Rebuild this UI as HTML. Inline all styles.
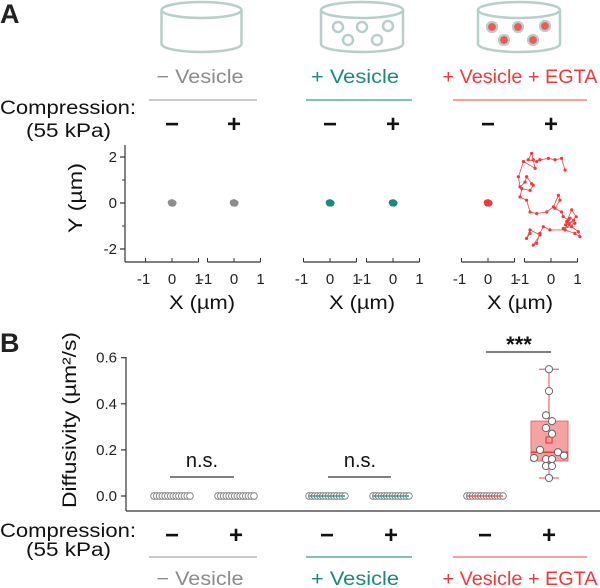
<!DOCTYPE html>
<html><head><meta charset="utf-8">
<style>
html,body{margin:0;padding:0;background:#fff;}
svg{display:block;font-family:"Liberation Sans",Arial,sans-serif;}
</style></head>
<body>
<svg id="fig" width="600" height="588" viewBox="0 0 600 588">
<g id="static">
<text x="0" y="23" font-size="27" font-weight="bold" fill="#222">A</text>
<text x="0" y="352" font-size="27" font-weight="bold" fill="#222">B</text>

<g fill="none" stroke="#b6cfca" stroke-width="2.5">
<ellipse cx="201.5" cy="10" rx="40" ry="8"/>
<path d="M161.5 10 V44 A40 8 0 0 0 241.5 44 V10"/>
</g>
<g fill="none" stroke="#b6cfca" stroke-width="2.5">
<ellipse cx="362" cy="10" rx="41" ry="8"/>
<path d="M321 10 V44 A41 8 0 0 0 403 44 V10"/>
<circle cx="338" cy="27" r="5"/><circle cx="362" cy="27" r="5"/><circle cx="388" cy="26" r="5"/>
<circle cx="348" cy="40" r="5"/><circle cx="377" cy="40" r="5"/>
</g>
<g stroke="#b6cfca" stroke-width="2.5">
<ellipse cx="519" cy="10" rx="41" ry="8" fill="none"/>
<path d="M478 10 V44 A41 8 0 0 0 560 44 V10" fill="none"/>
<g fill="#ef5a55" stroke-width="2.2">
<circle cx="492" cy="27" r="5"/><circle cx="518" cy="27" r="5"/><circle cx="545" cy="26" r="5"/>
<circle cx="504" cy="40" r="5"/><circle cx="533" cy="40" r="5"/></g>
</g>

<text x="200" y="83" font-size="19" fill="#8c8c8c" text-anchor="middle" textLength="87" lengthAdjust="spacingAndGlyphs">− Vesicle</text>
<text x="355" y="83" font-size="19" fill="#1a8a7f" text-anchor="middle" textLength="88" lengthAdjust="spacingAndGlyphs">+ Vesicle</text>
<text x="520" y="83" font-size="19" fill="#f0393a" text-anchor="middle" textLength="155" lengthAdjust="spacingAndGlyphs">+ Vesicle + EGTA</text>
<line x1="149" y1="100" x2="257" y2="100" stroke="#aaa" stroke-width="1.3"/>
<line x1="306" y1="100" x2="412" y2="100" stroke="#3a9a90" stroke-width="1.3"/>
<line x1="453" y1="100" x2="587" y2="100" stroke="#f06a6a" stroke-width="1.3"/>
<text x="0" y="114" font-size="19" fill="#111" textLength="136" lengthAdjust="spacingAndGlyphs">Compression:</text>
<text x="26" y="137" font-size="19" fill="#111" textLength="85" lengthAdjust="spacingAndGlyphs">(55 kPa)</text>

<text x="75" y="198" font-size="19" fill="#111" text-anchor="middle" transform="rotate(-90 75 198)" dy="7" textLength="70" lengthAdjust="spacingAndGlyphs">Y (µm)</text>
<text x="202" y="309" font-size="19" fill="#111" text-anchor="middle" textLength="66" lengthAdjust="spacingAndGlyphs">X (µm)</text>
<text x="362" y="309" font-size="19" fill="#111" text-anchor="middle" textLength="66" lengthAdjust="spacingAndGlyphs">X (µm)</text>
<text x="520" y="309" font-size="19" fill="#111" text-anchor="middle" textLength="66" lengthAdjust="spacingAndGlyphs">X (µm)</text>

<text x="69" y="420" font-size="19" fill="#111" text-anchor="middle" transform="rotate(-90 69 420)" dy="7" textLength="176" lengthAdjust="spacingAndGlyphs">Diffusivity (µm²/s)</text>
<text x="0" y="537" font-size="19" fill="#111" textLength="136" lengthAdjust="spacingAndGlyphs">Compression:</text>
<text x="26" y="556" font-size="19" fill="#111" textLength="85" lengthAdjust="spacingAndGlyphs">(55 kPa)</text>
<line x1="149" y1="557" x2="257" y2="557" stroke="#aaa" stroke-width="1.3"/>
<line x1="306" y1="557" x2="412" y2="557" stroke="#3a9a90" stroke-width="1.3"/>
<line x1="453" y1="557" x2="587" y2="557" stroke="#f06a6a" stroke-width="1.3"/>
<text x="200" y="585" font-size="19" fill="#8c8c8c" text-anchor="middle" textLength="87" lengthAdjust="spacingAndGlyphs">− Vesicle</text>
<text x="355" y="585" font-size="19" fill="#1a8a7f" text-anchor="middle" textLength="88" lengthAdjust="spacingAndGlyphs">+ Vesicle</text>
<text x="520" y="585" font-size="19" fill="#f0393a" text-anchor="middle" textLength="155" lengthAdjust="spacingAndGlyphs">+ Vesicle + EGTA</text>

<text x="202" y="467" font-size="20" fill="#111" text-anchor="middle">n.s.</text>
<line x1="170" y1="477" x2="234" y2="477" stroke="#333" stroke-width="1.3"/>
<text x="360" y="467" font-size="20" fill="#111" text-anchor="middle">n.s.</text>
<line x1="328" y1="477" x2="391" y2="477" stroke="#333" stroke-width="1.3"/>
<text x="519" y="352" font-size="22" font-weight="bold" fill="#111" text-anchor="middle">***</text>
<line x1="486" y1="352" x2="551" y2="352" stroke="#333" stroke-width="1.3"/>
</g>
<g id="dyn"></g>
</svg>
<script>
// ---- data ----
const condSigns = ["−","+","−","+","−","+"];
const condColors = ["#8c8c8c","#8c8c8c","#1a8a7f","#1a8a7f","#f0393a","#f0393a"];
const yTicksA = [2, 0, -2];
const xTicksA = [-1, 0, 1];
const trackSmallX = [-0.05, 0.04, 0.0, 0.06, -0.03];
const trackSmallY = [0.02, -0.03, 0.04, 0.0, -0.02];
const trajX = [0.53,0.40,0.15,-0.10,-0.42,-0.54,-0.86,-0.73,-0.67,-0.60,-1.04,-1.23,-1.17,-0.98,-0.92,-0.73,-0.67,-0.79,-1.10,-1.17,-0.92,-0.79,-0.54,-0.16,0.09,0.28,0.34,0.15,0.40,0.46,0.65,0.72,0.55,0.85,0.68,0.95,0.78,0.59,0.90,0.46,0.78,1.03,1.09,0.90,0.53,-0.04,-0.29,-0.42,-0.54,-0.67,-0.42,-0.79,-0.92,-0.79];
const trajY = [1.43,1.94,1.88,1.94,1.88,1.80,1.88,2.16,1.88,1.51,1.80,1.14,0.70,0.91,1.14,0.84,0.77,0.55,0.62,0.26,0.12,-0.39,-0.46,-0.39,-0.17,0.33,0.12,-0.23,-0.39,-0.59,-0.74,-0.66,-0.95,-0.75,-0.92,-0.60,-0.30,-0.81,-0.88,-1.10,-1.03,-1.25,-1.46,-1.32,-1.17,-1.17,-1.03,-1.32,-1.75,-1.83,-1.39,-1.17,-1.54,-1.32];
const bTicks = [0.0, 0.2, 0.4, 0.6];
const bTickLabels = ["0.0","0.2","0.4","0.6"];
const zeroCounts = [14, 14, 14, 14, 14];
const egtaValues = [0.55,0.455,0.35,0.325,0.295,0.27,0.20,0.19,0.165,0.175,0.16,0.16,0.13,0.13,0.078];
const egtaJitter = [0,0,-3,3,-3,3,-9,9,-15,15,-3,3,-3,3,0];
const egtaBox = {q1:0.152, med:0.19, q3:0.325, lo:0.078, hi:0.55, mean:0.243};

const NS="http://www.w3.org/2000/svg";
const dyn=document.getElementById('dyn');
function mk(tag,attrs,parent){const e=document.createElementNS(NS,tag);for(const k in attrs)e.setAttribute(k,attrs[k]);(parent||dyn).appendChild(e);return e;}

const zeroA=[172,234,330,393,488,551];
const catB=[172,236,327,391,485,549];
const ax=(i,v)=>zeroA[i]+v*26.5;
const ayA=v=>203-v*23;
condSigns.forEach((s,i)=>{
  const t=mk('text',{x:zeroA[i],y:132,'font-size':24,'font-weight':'bold','text-anchor':'middle',fill:'#111'});
  t.textContent=s;
  
  
  const t2=mk('text',{x:catB[i],y:543,'font-size':24,'font-weight':'bold','text-anchor':'middle',fill:'#111'});
  t2.textContent=s;
  
  
});
mk('line',{x1:125,y1:145,x2:125,y2:262,stroke:'#333','stroke-width':1.2});
[1,-1].forEach(v=>{mk('line',{x1:122,y1:ayA(v),x2:125,y2:ayA(v),stroke:'#333','stroke-width':1});});
yTicksA.forEach(v=>{
  mk('line',{x1:120,y1:ayA(v),x2:125,y2:ayA(v),stroke:'#333','stroke-width':1.2});
  const t=mk('text',{x:117,y:ayA(v)+5,'font-size':15,'text-anchor':'end',fill:'#222'});
  t.textContent=String(v);
  
  
});
for(let i=0;i<6;i++){
  const x0 = i===0?125:ax(i,-1);
  const l=mk('line',{x1:x0,y1:262,x2:ax(i,1),y2:262,stroke:'#333','stroke-width':1.2});
  
  
  xTicksA.forEach(v=>{
    mk('line',{x1:ax(i,v),y1:258,x2:ax(i,v),y2:262,stroke:'#333','stroke-width':1});
    const t=mk('text',{x:ax(i,v)+(v===-1?-2:0),y:284,'font-size':15,'text-anchor':'middle',fill:'#222'});
    t.textContent=String(v);
    
    
  });
}
for(let i=0;i<5;i++){
  const pts=trackSmallX.map((x,k)=>ax(i,x)+','+ayA(trackSmallY[k])).join(' ');
  mk('polyline',{points:pts,fill:'none',stroke:condColors[i],'stroke-width':1.5});
  trackSmallX.forEach((x,k)=>{
    const c=mk('circle',{cx:ax(i,x),cy:ayA(trackSmallY[k]),r:3,fill:condColors[i]});
    
    
  });
}
const tp=trajX.map((x,k)=>ax(5,x)+','+ayA(trajY[k])).join(' ');
const pl=mk('polyline',{points:tp,fill:'none',stroke:'#f0393a','stroke-width':0.9,opacity:0.85});


trajX.forEach((x,k)=>{
  const c=mk('circle',{cx:ax(5,x),cy:ayA(trajY[k]),r:1.6,fill:'#f0393a'});
  
  
});

const yB=v=>496-v*230.5;
const ya=mk('line',{x1:126,y1:357,x2:126,y2:511,stroke:'#333','stroke-width':1.2});


const xa=mk('line',{x1:126,y1:511,x2:600,y2:511,stroke:'#333','stroke-width':1.2});


bTicks.forEach((v,k)=>{
  mk('line',{x1:121,y1:yB(v),x2:126,y2:yB(v),stroke:'#333','stroke-width':1.2});
  const t=mk('text',{x:117,y:yB(v)+5,'font-size':15,'text-anchor':'end',fill:'#222'});
  t.textContent=bTickLabels[k];
  
  
});
zeroCounts.forEach((n,i)=>{
  const w=36;
  if(i>=2) mk('line',{x1:catB[i]-w/2-3,y1:yB(0),x2:catB[i]+w/2+3,y2:yB(0),stroke:condColors[i],'stroke-width':1.5});
  for(let k=0;k<n;k++){
    const c=mk('circle',{cx:catB[i]-w/2+k*w/(n-1),cy:yB(0),r:3.3,fill:'#fff',stroke:'#777','stroke-width':0.9});
    
    
  }
  if(i>=2) mk('line',{x1:catB[i]-w/2,y1:yB(0),x2:catB[i]+w/2,y2:yB(0),stroke:condColors[i],'stroke-width':1.2});
});
const cx=catB[5];
const wl=mk('line',{x1:cx,y1:yB(egtaBox.hi),x2:cx,y2:yB(egtaBox.lo),stroke:'#f06a6a','stroke-width':1.2});


[egtaBox.hi,egtaBox.lo].forEach(v=>{mk('line',{x1:cx-10,y1:yB(v),x2:cx+10,y2:yB(v),stroke:'#f06a6a','stroke-width':1.3});});
const bx=mk('rect',{x:cx-18,y:yB(egtaBox.q3),width:37,height:yB(egtaBox.q1)-yB(egtaBox.q3),fill:'#f5a3a1',stroke:'#f06a6a','stroke-width':1});


mk('line',{x1:cx-18,y1:yB(egtaBox.med),x2:cx+19,y2:yB(egtaBox.med),stroke:'#e83030','stroke-width':1.3});
mk('rect',{x:cx-3,y:yB(egtaBox.mean)-3,width:6,height:6,fill:'none',stroke:'#e83030','stroke-width':1});
egtaValues.forEach((v,k)=>{
  const c=mk('circle',{cx:cx+egtaJitter[k],cy:yB(v),r:3.6,fill:'#fff',stroke:'#666','stroke-width':1});
  
  
});
</script>
</body></html>
